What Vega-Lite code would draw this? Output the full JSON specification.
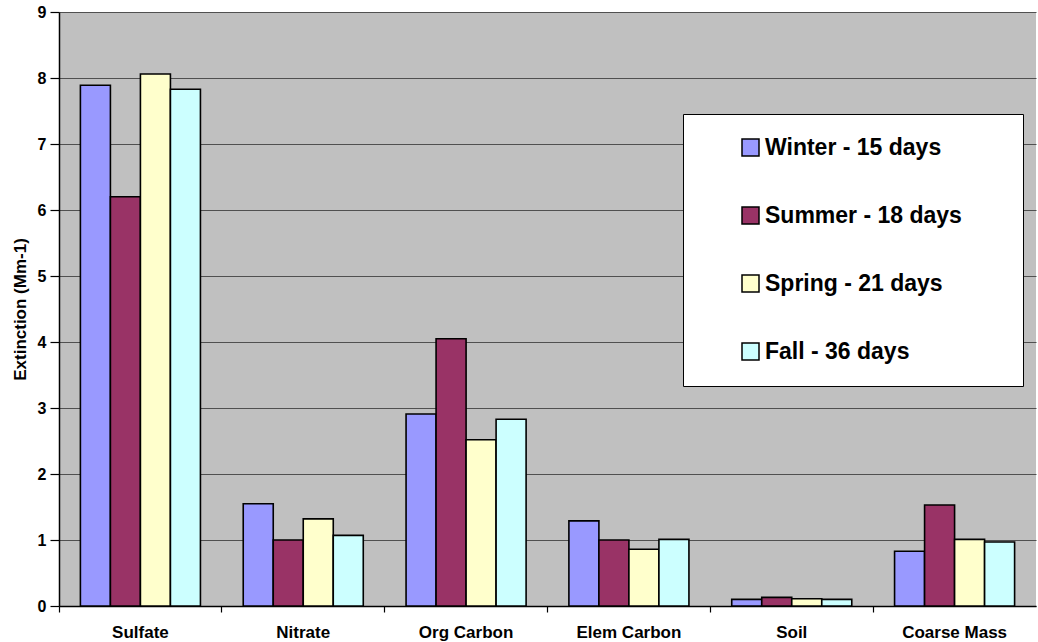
{
  "$schema": "https://vega.github.io/schema/vega-lite/v6.json",
  "width": 977,
  "height": 594,
  "autosize": {"type": "none"},
  "padding": {"left": 59, "top": 12, "right": 2, "bottom": 36},
  "background": "white",
  "config": {
    "view": {"fill": "#C0C0C0", "stroke": null},
    "font": "Liberation Sans"
  },
  "data": {
    "values": [
      {"component": "Sulfate", "season": "Winter - 15 days", "value": 7.89},
      {"component": "Sulfate", "season": "Summer - 18 days", "value": 6.2},
      {"component": "Sulfate", "season": "Spring - 21 days", "value": 8.06},
      {"component": "Sulfate", "season": "Fall - 36 days", "value": 7.83},
      {"component": "Nitrate", "season": "Winter - 15 days", "value": 1.55},
      {"component": "Nitrate", "season": "Summer - 18 days", "value": 1.0},
      {"component": "Nitrate", "season": "Spring - 21 days", "value": 1.32},
      {"component": "Nitrate", "season": "Fall - 36 days", "value": 1.07},
      {"component": "Org Carbon", "season": "Winter - 15 days", "value": 2.91},
      {"component": "Org Carbon", "season": "Summer - 18 days", "value": 4.05},
      {"component": "Org Carbon", "season": "Spring - 21 days", "value": 2.52},
      {"component": "Org Carbon", "season": "Fall - 36 days", "value": 2.83},
      {"component": "Elem Carbon", "season": "Winter - 15 days", "value": 1.29},
      {"component": "Elem Carbon", "season": "Summer - 18 days", "value": 1.0},
      {"component": "Elem Carbon", "season": "Spring - 21 days", "value": 0.86},
      {"component": "Elem Carbon", "season": "Fall - 36 days", "value": 1.01},
      {"component": "Soil", "season": "Winter - 15 days", "value": 0.1},
      {"component": "Soil", "season": "Summer - 18 days", "value": 0.13},
      {"component": "Soil", "season": "Spring - 21 days", "value": 0.11},
      {"component": "Soil", "season": "Fall - 36 days", "value": 0.1},
      {"component": "Coarse Mass", "season": "Winter - 15 days", "value": 0.83},
      {"component": "Coarse Mass", "season": "Summer - 18 days", "value": 1.53},
      {"component": "Coarse Mass", "season": "Spring - 21 days", "value": 1.01},
      {"component": "Coarse Mass", "season": "Fall - 36 days", "value": 0.97}
    ]
  },
  "mark": {"type": "bar", "stroke": "black", "strokeWidth": 1.6},
  "encoding": {
    "x": {
      "field": "component",
      "type": "nominal",
      "sort": ["Sulfate", "Nitrate", "Org Carbon", "Elem Carbon", "Soil", "Coarse Mass"],
      "scale": {"paddingInner": 0, "paddingOuter": 0},
      "axis": {
        "title": null,
        "labelAngle": 0,
        "labelFontSize": 17,
        "labelFontWeight": "bold",
        "labelColor": "black",
        "labelPadding": 12,
        "ticks": true,
        "tickSize": 6,
        "tickColor": "black",
        "tickWidth": 1.2,
        "bandPosition": 0,
        "domainColor": "black",
        "domainWidth": 1.5,
        "grid": false
      }
    },
    "xOffset": {
      "field": "season",
      "type": "nominal",
      "sort": ["Winter - 15 days", "Summer - 18 days", "Spring - 21 days", "Fall - 36 days"],
      "scale": {"paddingInner": 0, "paddingOuter": 0.713}
    },
    "y": {
      "field": "value",
      "type": "quantitative",
      "scale": {"domain": [0, 9], "nice": false},
      "axis": {
        "title": "Extinction (Mm-1)",
        "titleFontSize": 17,
        "titleFontWeight": "bold",
        "titleColor": "black",
        "titlePadding": 8,
        "values": [0, 1, 2, 3, 4, 5, 6, 7, 8, 9],
        "labelFontSize": 16,
        "labelFontWeight": "bold",
        "labelColor": "black",
        "labelPadding": 4,
        "tickSize": 9,
        "tickColor": "black",
        "tickWidth": 1.2,
        "domainColor": "black",
        "domainWidth": 1.5,
        "grid": true,
        "gridColor": "#505050",
        "gridWidth": 1.2
      }
    },
    "color": {
      "field": "season",
      "type": "nominal",
      "sort": ["Winter - 15 days", "Summer - 18 days", "Spring - 21 days", "Fall - 36 days"],
      "scale": {
        "domain": ["Winter - 15 days", "Summer - 18 days", "Spring - 21 days", "Fall - 36 days"],
        "range": ["#9999FF", "#993366", "#FFFFCC", "#CCFFFF"]
      },
      "legend": {
        "title": null,
        "orient": "none",
        "legendX": 624,
        "legendY": 102,
        "fillColor": "white",
        "strokeColor": "black",
        "padding": 22,
        "symbolType": "square",
        "symbolSize": 289,
        "symbolStrokeColor": "black",
        "symbolStrokeWidth": 1.5,
        "symbolOffset": 34,
        "labelFontSize": 23,
        "labelFontWeight": "bold",
        "labelColor": "black",
        "labelOffset": 3,
        "labelLimit": 400,
        "labelExpr": "datum.label + '\u00a0\u00a0\u00a0\u00a0\u00a0\u00a0\u200b'",
        "rowPadding": 44
      }
    }
  }
}
